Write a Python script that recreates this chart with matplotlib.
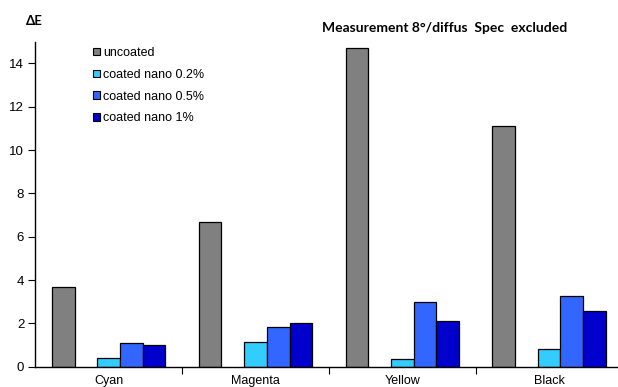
import numpy as np
import matplotlib
matplotlib.use('Agg')
import matplotlib.pyplot as plt
from matplotlib.patches import Patch

# データ
categories = ['Cyan', 'Magenta', 'Yellow', 'Black']
series_names = ['uncoated', 'coated nano 0.2%', 'coated nano 0.5%', 'coated nano 1%']
uncoated = [3.7, 6.7, 14.7, 11.1]
nano_02 = [0.42, 1.12, 0.35, 0.82]
nano_05 = [1.08, 1.85, 2.98, 3.28]
nano_1 = [0.98, 2.01, 2.12, 2.57]
y_ticks = [0, 2, 4, 6, 8, 10, 12, 14]

colors = ['#808080', '#33CCFF', '#3366FF', '#0000CC']

plt.rcParams['font.family'] = ['Liberation Sans', 'DejaVu Sans']

fig = plt.figure(figsize=(6.18, 3.87), dpi=100)
ax = fig.add_axes([35.3 / 618, 20.3 / 387, 587.2 / 618, 325 / 387])

x = np.arange(len(categories))
w = 0.1546
# 5枠のうち2番目は空き
offsets = [-2 * w, 0, w, 2 * w]
for vals, off, c in zip([uncoated, nano_02, nano_05, nano_1], offsets, colors):
    ax.bar(x + off, vals, width=w, color=c, edgecolor='black', linewidth=0.9)

ax.set_xlim(-0.5, 3.5)
ax.set_ylim(0, 15)
ax.set_yticks(y_ticks)
ax.set_yticklabels([str(t) for t in y_ticks], fontsize=9.5)
ax.set_xticks(x)
ax.set_xticklabels(categories, fontsize=9)
ax.set_xticks([0.5, 1.5, 2.5], minor=True)
ax.tick_params(axis='x', which='major', length=0, pad=6)
ax.tick_params(axis='x', which='minor', length=5, width=0.8)
ax.tick_params(axis='y', length=5, width=0.8, pad=3)

for s in ['top', 'right']:
    ax.spines[s].set_visible(False)
ax.spines['left'].set_linewidth(1.0)
ax.spines['bottom'].set_linewidth(1.0)

# 凡例
handles = [Patch(facecolor=c, edgecolor='black', linewidth=0.8) for c in colors]
fig.legend(handles, series_names, loc='upper left', bbox_to_anchor=(93 / 618, 1 - 47 / 387),
           frameon=False, fontsize=9, handlelength=0.55, handleheight=0.55,
           labelspacing=0.78, handletextpad=0.25, borderaxespad=0, borderpad=0)

fig.text(444.7 / 618, 1 - 28 / 387, 'Measurement 8°/diffus  Spec  excluded',
         fontsize=10, fontweight='bold', family=['Lato', 'DejaVu Sans'],
         ha='center', va='center')
fig.text(34 / 618, 1 - 21 / 387, 'ΔE', fontsize=9.5, fontweight='bold',
         family=['Lato', 'DejaVu Sans'], ha='center', va='center')

fig.savefig('out.png', dpi=100)
